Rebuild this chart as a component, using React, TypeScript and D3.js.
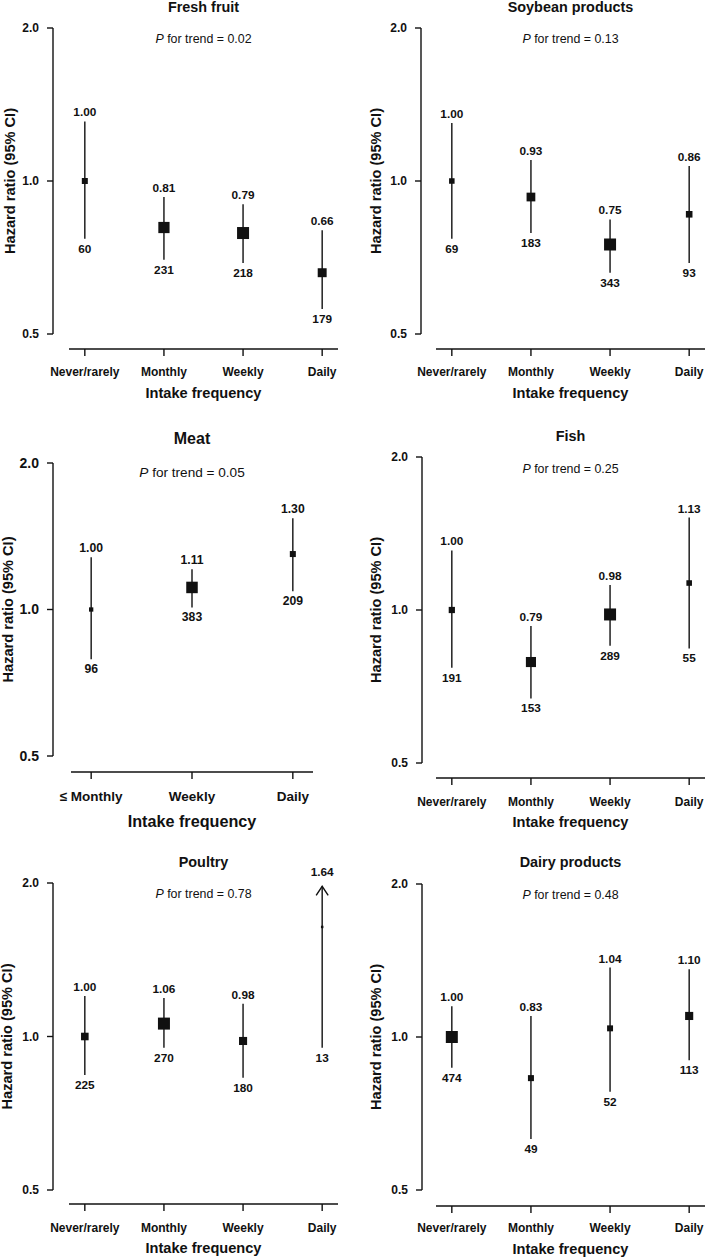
import * as d3 from "d3"

// Intake categories
const freqCategories = ["Never/rarely", "Monthly", "Weekly", "Daily"]
const meatCategories = ["≤ Monthly", "Weekly", "Daily"]

// Hazard ratios, 95% CI bounds and number of cases per food group
const fruitHR = [1.0, 0.81, 0.79, 0.66]
const fruitLow = [0.77, 0.7, 0.69, 0.56]
const fruitHigh = [1.31, 0.93, 0.9, 0.8]
const fruitCases = [60, 231, 218, 179]

const soyHR = [1.0, 0.93, 0.75, 0.86]
const soyLow = [0.77, 0.79, 0.66, 0.69]
const soyHigh = [1.3, 1.1, 0.84, 1.07]
const soyCases = [69, 183, 343, 93]

const meatHR = [1.0, 1.11, 1.3]
const meatLow = [0.79, 1.01, 1.09]
const meatHigh = [1.28, 1.21, 1.54]
const meatCases = [96, 383, 209]

const fishHR = [1.0, 0.79, 0.98, 1.13]
const fishLow = [0.77, 0.67, 0.85, 0.84]
const fishHigh = [1.31, 0.93, 1.12, 1.52]
const fishCases = [191, 153, 289, 55]

const poultryHR = [1.0, 1.06, 0.98, 1.64]
const poultryLow = [0.84, 0.95, 0.83, 0.95]
const poultryHigh = [1.2, 1.19, 1.16, 2.85]
const poultryCases = [225, 270, 180, 13]

const dairyHR = [1.0, 0.83, 1.04, 1.1]
const dairyLow = [0.87, 0.63, 0.78, 0.9]
const dairyHigh = [1.15, 1.1, 1.37, 1.36]
const dairyCases = [474, 49, 52, 113]

const yTicks = [0.5, 1.0, 2.0]
const arrowCap = 1.97

const INK = "#111"
const FONT = "'Liberation Sans', Arial, Helvetica, sans-serif"

interface Fonts {
  title: number
  p: number
  tick: number
  cat: number
  xTitle: number
  point: number
}

const normalFonts: Fonts = { title: 14.4, p: 12.4, tick: 12, cat: 12, xTitle: 14.6, point: 11.8 }
const meatFonts: Fonts = { title: 16, p: 13.6, tick: 14, cat: 13.5, xTitle: 16.2, point: 12.2 }

interface Layout {
  axisX: number
  yTop: number
  yBottom: number
  xAxisY: number
  xRange: [number, number]
  titleY: number
  pY: number
  catY: number
  xTitleY: number
  yTitleX: number
  boxMax: number
  fonts: Fonts
}

interface PanelProps {
  title: string
  pTrend: string
  categories: string[]
  hr: number[]
  low: number[]
  high: number[]
  cases: number[]
  layout: Layout
}

function Panel({ title, pTrend, categories, hr, low, high, cases, layout }: PanelProps) {
  const { axisX, yTop, yBottom, xAxisY, xRange, fonts } = layout
  const y = d3.scaleLog().domain([0.5, 2]).range([yBottom, yTop])
  const x = d3.scalePoint<string>().domain(categories).range(xRange).padding(0.2)

  // box side proportional to precision (inverse of log CI width)
  const precision = hr.map((_, i) => 1 / Math.log(high[i] / low[i]))
  const box = d3
    .scaleLinear()
    .domain([0, d3.max(precision) as number])
    .range([0, layout.boxMax])

  const cx = (xRange[0] + xRange[1]) / 2
  const yMid = (yTop + yBottom) / 2

  return (
    <g fontFamily={FONT} fill={INK}>
      <text x={cx} y={layout.titleY} textAnchor="middle" fontWeight="bold" fontSize={fonts.title}>
        {title}
      </text>
      <text x={cx} y={layout.pY} textAnchor="middle" fontSize={fonts.p}>
        <tspan fontStyle="italic">P</tspan>
        {"  for trend = " + pTrend}
      </text>

      {/* y axis */}
      <line x1={axisX} x2={axisX} y1={y(2)} y2={y(0.5)} stroke={INK} strokeWidth={1.4} />
      {yTicks.map((t) => (
        <g key={t}>
          <line x1={axisX - 6} x2={axisX} y1={y(t)} y2={y(t)} stroke={INK} strokeWidth={1.4} />
          <text
            x={axisX - 14}
            y={y(t)}
            dy="0.35em"
            textAnchor="end"
            fontWeight="bold"
            fontSize={fonts.tick}
          >
            {t.toFixed(1)}
          </text>
        </g>
      ))}
      <text
        transform={`translate(${layout.yTitleX},${yMid}) rotate(-90)`}
        textAnchor="middle"
        dy="0.35em"
        fontWeight="bold"
        fontSize={14.6}
      >
        Hazard ratio (95% CI)
      </text>

      {/* x axis */}
      <line x1={xRange[0]} x2={xRange[1]} y1={xAxisY} y2={xAxisY} stroke={INK} strokeWidth={1.4} />
      {categories.map((c) => (
        <g key={c}>
          <line
            x1={x(c)}
            x2={x(c)}
            y1={xAxisY}
            y2={xAxisY + 7}
            stroke={INK}
            strokeWidth={1.4}
          />
          <text x={x(c)} y={layout.catY} textAnchor="middle" fontWeight="bold" fontSize={fonts.cat}>
            {c}
          </text>
        </g>
      ))}
      <text x={cx} y={layout.xTitleY} textAnchor="middle" fontWeight="bold" fontSize={fonts.xTitle}>
        Intake frequency
      </text>

      {/* estimates */}
      {categories.map((c, i) => {
        const px = x(c) as number
        const clipped = high[i] > arrowCap
        const top = y(Math.min(high[i], arrowCap))
        const bottom = y(low[i])
        const s = box(precision[i])
        return (
          <g key={c}>
            <line x1={px} x2={px} y1={top} y2={bottom} stroke={INK} strokeWidth={1.4} />
            {clipped && (
              <path
                d={`M${px - 6},${top + 9}L${px},${top}L${px + 6},${top + 9}`}
                fill="none"
                stroke={INK}
                strokeWidth={1.4}
              />
            )}
            <rect x={px - s / 2} y={y(hr[i]) - s / 2} width={s} height={s} fill={INK} />
            <text
              x={px}
              y={top - (clipped ? 10 : 5)}
              textAnchor="middle"
              fontWeight="bold"
              fontSize={fonts.point}
            >
              {hr[i].toFixed(2)}
            </text>
            <text x={px} y={bottom + 14} textAnchor="middle" fontWeight="bold" fontSize={fonts.point}>
              {cases[i]}
            </text>
          </g>
        )
      })}
    </g>
  )
}

const leftWide: Pick<Layout, "axisX" | "xRange"> = { axisX: 53, xRange: [69, 338] }
const rightWide: Pick<Layout, "axisX" | "xRange"> = { axisX: 421, xRange: [436, 705] }

export default function App() {
  return (
    <svg
      width={709}
      height={1257}
      style={{ position: "absolute", left: 0, top: 0, background: "#fff" }}
    >
      <Panel
        title="Fresh fruit"
        pTrend="0.02"
        categories={freqCategories}
        hr={fruitHR}
        low={fruitLow}
        high={fruitHigh}
        cases={fruitCases}
        layout={{
          ...leftWide,
          yTop: 28,
          yBottom: 334,
          xAxisY: 349,
          titleY: 12,
          pY: 43,
          catY: 376,
          xTitleY: 398,
          yTitleX: 10,
          boxMax: 12,
          fonts: normalFonts,
        }}
      />
      <Panel
        title="Soybean products"
        pTrend="0.13"
        categories={freqCategories}
        hr={soyHR}
        low={soyLow}
        high={soyHigh}
        cases={soyCases}
        layout={{
          ...rightWide,
          yTop: 28,
          yBottom: 334,
          xAxisY: 349,
          titleY: 12,
          pY: 43,
          catY: 376,
          xTitleY: 398,
          yTitleX: 376,
          boxMax: 12,
          fonts: normalFonts,
        }}
      />
      <Panel
        title="Meat"
        pTrend="0.05"
        categories={meatCategories}
        hr={meatHR}
        low={meatLow}
        high={meatHigh}
        cases={meatCases}
        layout={{
          axisX: 53,
          xRange: [71, 313],
          yTop: 463,
          yBottom: 756,
          xAxisY: 772,
          titleY: 444,
          pY: 477,
          catY: 801,
          xTitleY: 827,
          yTitleX: 8,
          boxMax: 11.5,
          fonts: meatFonts,
        }}
      />
      <Panel
        title="Fish"
        pTrend="0.25"
        categories={freqCategories}
        hr={fishHR}
        low={fishLow}
        high={fishHigh}
        cases={fishCases}
        layout={{
          ...rightWide,
          axisX: 422,
          yTop: 457,
          yBottom: 763,
          xAxisY: 778,
          titleY: 441,
          pY: 473,
          catY: 806,
          xTitleY: 827,
          yTitleX: 376,
          boxMax: 12,
          fonts: normalFonts,
        }}
      />
      <Panel
        title="Poultry"
        pTrend="0.78"
        categories={freqCategories}
        hr={poultryHR}
        low={poultryLow}
        high={poultryHigh}
        cases={poultryCases}
        layout={{
          ...leftWide,
          yTop: 883,
          yBottom: 1190,
          xAxisY: 1204,
          titleY: 867,
          pY: 898,
          catY: 1232,
          xTitleY: 1253,
          yTitleX: 7,
          boxMax: 12,
          fonts: normalFonts,
        }}
      />
      <Panel
        title="Dairy products"
        pTrend="0.48"
        categories={freqCategories}
        hr={dairyHR}
        low={dairyLow}
        high={dairyHigh}
        cases={dairyCases}
        layout={{
          ...rightWide,
          axisX: 422,
          yTop: 884,
          yBottom: 1190,
          xAxisY: 1206,
          titleY: 867,
          pY: 899,
          catY: 1232,
          xTitleY: 1254,
          yTitleX: 376,
          boxMax: 12,
          fonts: normalFonts,
        }}
      />
    </svg>
  )
}
